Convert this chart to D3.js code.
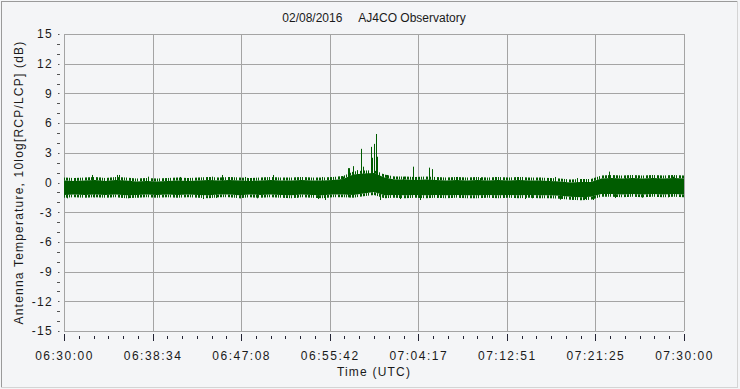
<!DOCTYPE html>
<html>
<head>
<meta charset="utf-8">
<script src="https://cdn.jsdelivr.net/npm/d3@7"></script>
<style>
  body { margin: 0; background: #f4f5f7; }
  svg { display: block; }
  text { font-family: "Liberation Sans", Arial, sans-serif; fill: #1a1a1a; }
</style>
</head>
<body>
<div class="chart"></div>
<script>
// time in minutes after 06:30:00 UTC
const timeLabels = ["06:30:00", "06:38:34", "06:47:08", "06:55:42", "07:04:17", "07:12:51", "07:21:25", "07:30:00"]
const yTicks = [-15, -12, -9, -6, -3, 0, 3, 6, 9, 12, 15]

// band envelope, one value per minute (dB)
const envMinutes = d3.range(0, 61)
const envUpper = [0.2, 0.15, 0.2, 0.25, 0.15, 0.25, 0.2, 0.1, 0.15, 0.1, 0.15, 0.2, 0.15, 0.2, 0.25, 0.2,
    0.25, 0.2, 0.15, 0.2, 0.25, 0.2, 0.2, 0.25, 0.2, 0.2, 0.25, 0.35, 0.8, 0.9, 0.95, 0.5, 0.3, 0.3, 0.25,
    0.3, 0.25, 0.2, 0.25, 0.2, 0.25, 0.2, 0.25, 0.2, 0.25, 0.2, 0.2, 0.15, 0.1, 0.0, 0.05, 0.05, 0.4, 0.45,
    0.4, 0.45, 0.4, 0.45, 0.4, 0.45, 0.4]
const envLower = [-1.25, -1.2, -1.25, -1.2, -1.25, -1.2, -1.3, -1.25, -1.2, -1.25, -1.2, -1.25, -1.2, -1.25,
    -1.3, -1.2, -1.2, -1.3, -1.2, -1.25, -1.2, -1.25, -1.3, -1.2, -1.25, -1.3, -1.2, -1.2, -1.25, -1.1, -0.95,
    -1.3, -1.25, -1.3, -1.25, -1.3, -1.25, -1.3, -1.25, -1.3, -1.3, -1.25, -1.3, -1.25, -1.3, -1.25, -1.3,
    -1.3, -1.35, -1.45, -1.5, -1.45, -1.15, -1.15, -1.2, -1.15, -1.2, -1.15, -1.2, -1.15, -1.2]

// visible excursions above / below the band
const peakMinutes = [2.68, 3.48, 4.13, 5.1, 5.32, 5.58, 8.1, 11.23, 13.81, 14.3, 15.26, 17.52, 17.8, 20.26,
    22.84, 24.94, 27.0, 27.45, 27.58, 27.97, 28.36, 28.74, 28.94, 29.23, 29.4, 29.68, 29.8, 30.0, 30.2,
    30.27, 30.5, 30.84, 31.23, 32.84, 33.75, 35.35, 35.6, 38.0, 40.26, 41.71, 44.3, 46.06, 47.5, 49.6,
    52.74, 54.29, 55.55, 57.5, 58.94]
const peakValues = [0.76, 0.48, 0.35, 0.76, 0.76, 0.45, 0.59, 0.56, 0.45, 0.59, 0.76, 0.56, 0.45, 0.76,
    0.45, 0.56, 0.6, 1.45, 1.45, 1.65, 1.25, 3.4, 1.6, 1.1, 1.0, 3.6, 2.5, 3.9, 4.9,
    2.6, 1.0, 0.85, 0.76, 0.59, 1.6, 1.5, 1.35, 0.56, 0.45, 0.56, 0.56, 0.48, 0.56, 0.45,
    1.1, 0.59, 0.66, 0.66, 0.59]
const dipMinutes = [0.26, 2.9, 6.2, 7.16, 8.97, 10.55, 13.45, 14.68, 17.03, 18.65, 22.52, 24.58, 25.26,
    27.48, 30.58, 32.52, 34.45, 36.07, 38.32, 40.06, 42.48, 44.61, 45.26, 48.0, 49.13, 50.42, 51.2,
    53.32, 55.9, 58.48]
const dipValues = [-1.6, -1.52, -1.6, -1.54, -1.46, -1.46, -1.67, -1.57, -1.6, -1.6, -1.54, -1.67, -1.77,
    -1.5, -1.77, -1.67, -1.77, -1.57, -1.57, -1.54, -1.57, -1.67, -1.6, -1.74, -1.74, -1.67, -1.77,
    -1.57, -1.54, -1.5]

const width = 740, height = 389
const margin = {left: 64, right: 56, top: 34, bottom: 58}
const traceColor = "#005c00"

const svg = d3.select('.chart').append('svg')
    .attr('width', width)
    .attr('height', height)

// hairline texture for the noisy band edges
const pat = svg.append("defs").append("pattern")
    .attr("id", "hairs")
    .attr("patternUnits", "userSpaceOnUse")
    .attr("width", 11)
    .attr("height", 40)
;[[0, 2], [3, 1], [5, 1], [8, 2]].forEach(p => {
    pat.append("rect").attr("x", p[0]).attr("y", 0).attr("width", p[1]).attr("height", 40).attr("fill", traceColor)
})

// window frame
svg.append("line").attr("x1", 1).attr("x2", 738).attr("y1", 1.5).attr("y2", 1.5).attr("stroke", "#9a9a9a")
svg.append("line").attr("x1", 1.5).attr("x2", 1.5).attr("y1", 1).attr("y2", 387).attr("stroke", "#9a9a9a")
svg.append("line").attr("x1", 737.5).attr("x2", 737.5).attr("y1", 1).attr("y2", 388).attr("stroke", "#d4d4d4")
svg.append("line").attr("x1", 1).attr("x2", 738).attr("y1", 387.5).attr("y2", 387.5).attr("stroke", "#d4d4d4")

const x = d3.scaleLinear()
    .domain([0, 60])
    .range([margin.left, width - margin.right])
const y = d3.scaleLinear()
    .domain([-15, 15])
    .range([height - margin.bottom, margin.top])

const majorTimes = timeLabels.map((d, i) => i * 60 / 7)
const minorTimes = d3.range(0, 43).map(i => i * 60 / 42).filter((d, i) => i % 6 !== 0)

// grid
svg.append("g")
    .selectAll("line")
    .data(majorTimes)
    .enter().append("line")
    .attr("x1", d => Math.round(x(d)) + 0.5)
    .attr("x2", d => Math.round(x(d)) + 0.5)
    .attr("y1", y(15))
    .attr("y2", y(-15))
    .attr("stroke", "#a4a4a4")
svg.append("g")
    .selectAll("line")
    .data(yTicks)
    .enter().append("line")
    .attr("x1", x(0))
    .attr("x2", x(60))
    .attr("y1", d => Math.round(y(d)) + 0.5)
    .attr("y2", d => Math.round(y(d)) + 0.5)
    .attr("stroke", "#a4a4a4")

// trace
const band = envMinutes.map((t, i) => ({t: t, hi: envUpper[i], lo: envLower[i]}))
const fringe = 0.3
svg.append("path")
    .datum(band)
    .attr("d", d3.area().x(d => x(d.t)).y0(d => y(d.hi)).y1(d => y(d.hi + fringe)))
    .attr("fill", "url(#hairs)")
svg.append("path")
    .datum(band)
    .attr("d", d3.area().x(d => x(d.t)).y0(d => y(d.lo - fringe)).y1(d => y(d.lo)))
    .attr("fill", "url(#hairs)")
svg.append("path")
    .datum(band)
    .attr("d", d3.area().x(d => x(d.t)).y0(d => y(d.lo)).y1(d => y(d.hi)))
    .attr("fill", traceColor)

svg.append("g")
    .selectAll("line")
    .data(peakMinutes.map((t, i) => ({t: t, v: peakValues[i]})))
    .enter().append("line")
    .attr("x1", d => Math.round(x(d.t)) + 0.5)
    .attr("x2", d => Math.round(x(d.t)) + 0.5)
    .attr("y1", y(-0.5))
    .attr("y2", d => y(d.v))
    .attr("stroke", traceColor)
svg.append("g")
    .selectAll("line")
    .data(dipMinutes.map((t, i) => ({t: t, v: dipValues[i]})))
    .enter().append("line")
    .attr("x1", d => Math.round(x(d.t)) + 0.5)
    .attr("x2", d => Math.round(x(d.t)) + 0.5)
    .attr("y1", y(-0.5))
    .attr("y2", d => y(d.v))
    .attr("stroke", traceColor)

// y axis ticks and labels
const yMinor = d3.range(-15, 16).filter(d => d % 3 !== 0)
svg.append("g")
    .selectAll("line")
    .data(yMinor)
    .enter().append("line")
    .attr("x1", 57)
    .attr("x2", 60)
    .attr("y1", d => Math.round(y(d)) + 0.5)
    .attr("y2", d => Math.round(y(d)) + 0.5)
    .attr("stroke", "#555")
svg.append("g")
    .selectAll("rect")
    .data(yTicks)
    .enter().append("rect")
    .attr("x", 58)
    .attr("y", d => Math.round(y(d)))
    .attr("width", 1.5)
    .attr("height", 1)
    .attr("fill", "#555")
svg.append("g")
    .selectAll("text")
    .data(yTicks)
    .enter().append("text")
    .attr("x", 53)
    .attr("y", d => y(d))
    .attr("dy", "0.36em")
    .attr("text-anchor", "end")
    .attr("font-size", "12px")
    .style("letter-spacing", "1.3px")
    .text(d => String(d))

// x axis
const xAxis = d3.axisBottom(x)
    .tickValues(majorTimes)
    .tickSize(0)
    .tickPadding(0)
    .tickFormat((d, i) => timeLabels[i])
const gx = svg.append("g")
    .attr("transform", "translate(0," + (height - margin.bottom) + ")")
    .call(xAxis)
gx.select(".domain").remove()
gx.selectAll("text")
    .attr("y", 29)
    .attr("dy", 0)
    .attr("font-size", "12px")
    .attr("fill", "#1a1a1a")
    .style("font-family", '"Liberation Sans", Arial, sans-serif')
    .style("letter-spacing", "1.5px")

svg.append("g")
    .selectAll("line")
    .data(majorTimes)
    .enter().append("line")
    .attr("x1", d => Math.round(x(d)) + 0.5)
    .attr("x2", d => Math.round(x(d)) + 0.5)
    .attr("y1", 334)
    .attr("y2", 341)
    .attr("stroke", "#223")
svg.append("g")
    .selectAll("line")
    .data(minorTimes)
    .enter().append("line")
    .attr("x1", d => Math.round(x(d)) + 0.5)
    .attr("x2", d => Math.round(x(d)) + 0.5)
    .attr("y1", 336)
    .attr("y2", 339)
    .attr("stroke", "#223")

// titles
svg.append("text")
    .attr("x", 374)
    .attr("y", 22)
    .attr("text-anchor", "middle")
    .attr("font-size", "12px")
    .style("white-space", "pre")
    .text("02/08/2016     AJ4CO Observatory")

svg.append("text")
    .attr("x", 374)
    .attr("y", 376)
    .attr("text-anchor", "middle")
    .attr("font-size", "12px")
    .style("letter-spacing", "1.2px")
    .text("Time (UTC)")

svg.append("text")
    .attr("transform", "translate(23," + y(0) + ") rotate(-90)")
    .attr("text-anchor", "middle")
    .attr("font-size", "12px")
    .style("letter-spacing", "1.2px")
    .text("Antenna Temperature, 10log[RCP/LCP] (dB)")
</script>
</body>
</html>
